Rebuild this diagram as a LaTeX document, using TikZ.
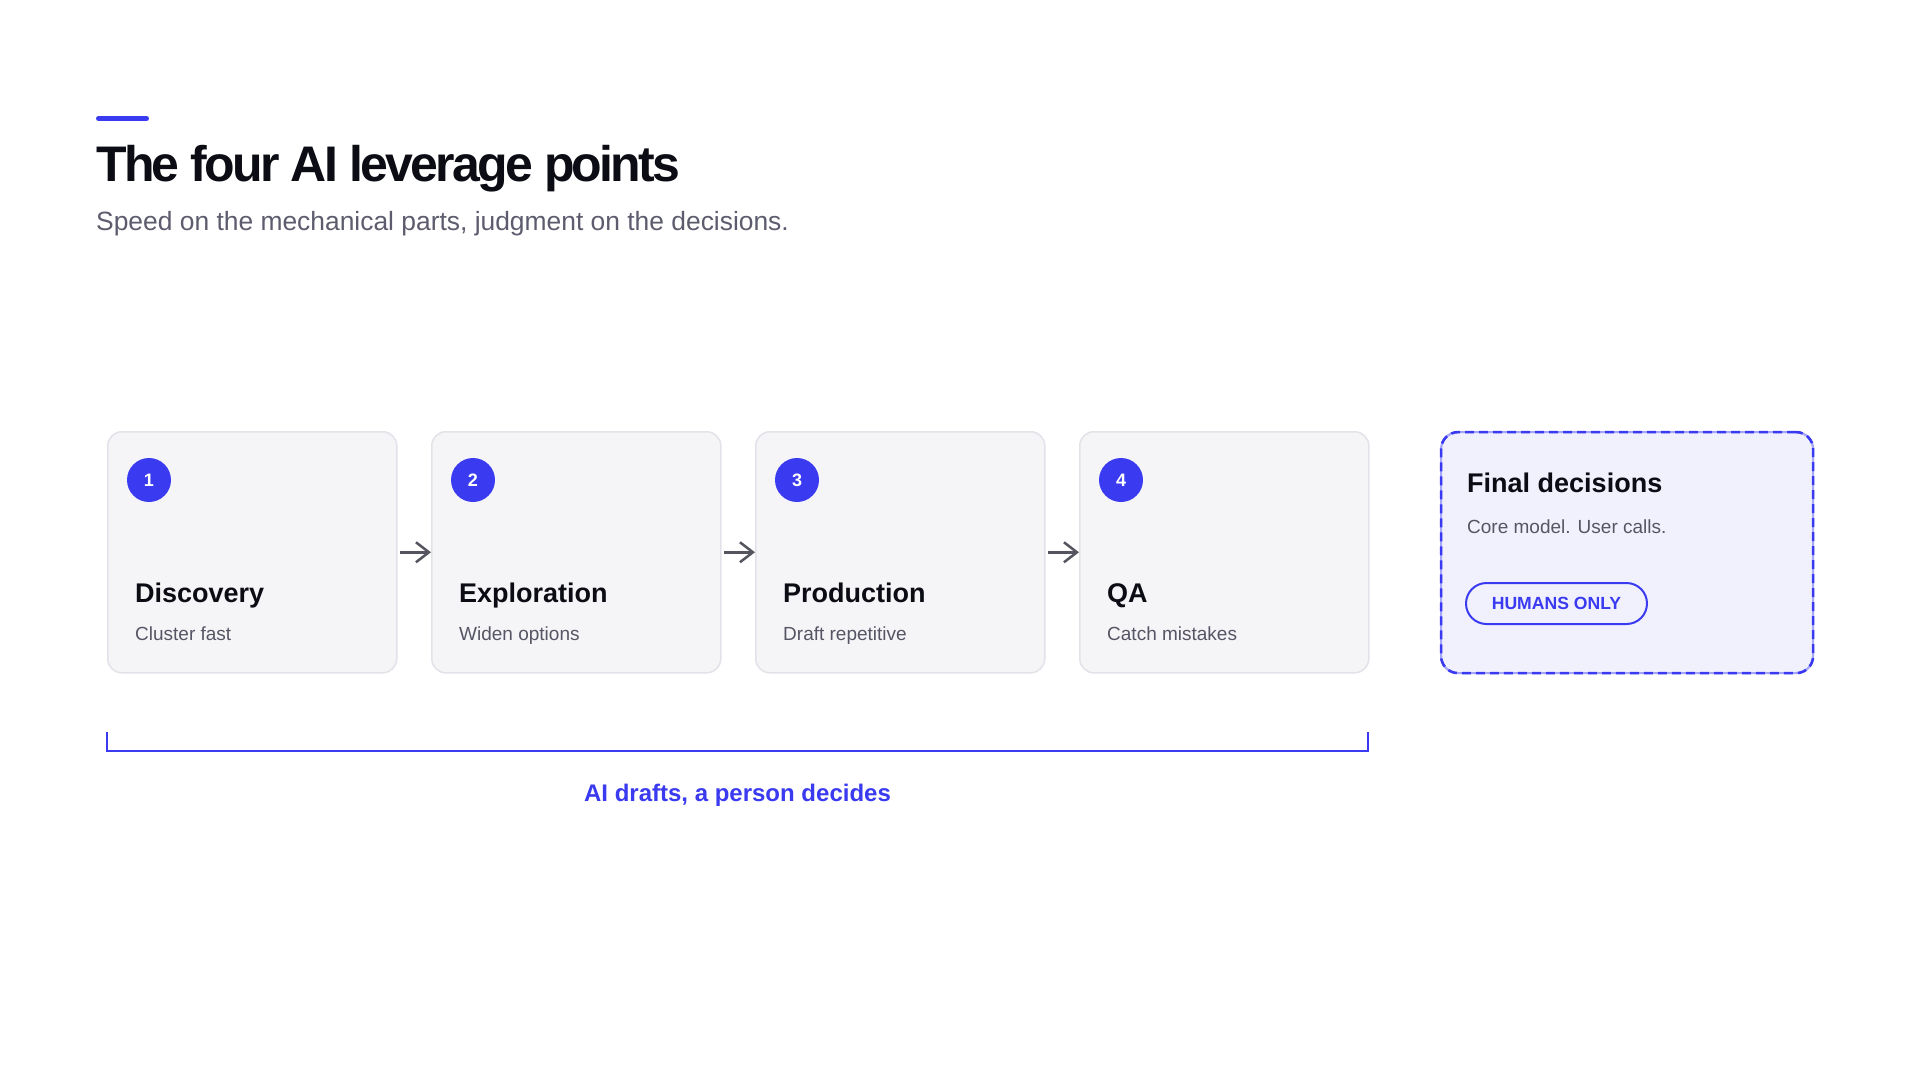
\documentclass[tikz,border=0pt]{standalone}
\usepackage{fontspec}
\setmainfont{Liberation Sans}
\newfontfamily\titlefont[LetterSpace=-5.5]{Liberation Sans}
\usetikzlibrary{arrows.meta}
\definecolor{accent}{RGB}{58,58,240}
\definecolor{ink}{RGB}{12,12,20}
\definecolor{muted}{RGB}{85,85,100}
\definecolor{submuted}{RGB}{92,92,110}
\definecolor{boxfill}{RGB}{245,245,248}
\definecolor{boxline}{RGB}{226,226,233}
\definecolor{finfill}{RGB}{241,241,254}
\definecolor{finline}{RGB}{165,165,250}
\definecolor{arrowgray}{RGB}{85,85,95}
\begin{document}
\begin{tikzpicture}[x=1pt,y=-1pt,
  stagebox/.style={draw=boxline, fill=boxfill, line width=1.5pt, rounded corners=14pt,
    minimum width=289pt, minimum height=241pt, inner sep=0pt, anchor=north west},
  finalbox/.style={draw=finline, fill=finfill, line width=2.2pt, rounded corners=17pt,
    minimum width=372pt, minimum height=241pt, inner sep=0pt, anchor=north west,
    postaction={draw=accent, line width=2.6pt, dash pattern=on 9pt off 5pt}},
  numdot/.style={circle, fill=accent, minimum size=44pt, inner sep=0pt, text=white,
    font=\fontsize{18}{20}\selectfont\bfseries, text height=13pt, text depth=0pt},
  stagetitle/.style={anchor=base west, inner sep=0pt, text=ink,
    font=\fontsize{27}{30}\selectfont\bfseries},
  stagesub/.style={anchor=base west, inner sep=0pt, text=muted,
    font=\fontsize{19}{22}\selectfont},
  flowarrow/.style={draw=arrowgray, line width=2.5pt,
    -{Straight Barb[length=13pt, width=20pt, line width=2.5pt]}},
  pill/.style={draw=accent, line width=2pt, fill=finfill, rounded corners=20.5pt,
    minimum width=181pt, minimum height=41pt, inner sep=0pt, text=accent,
    font=\fontsize{17.6}{20}\selectfont\bfseries, text height=12.6pt, text depth=0pt},
  bracketline/.style={draw=accent, line width=2pt, line join=miter}
]
\fill[white] (0,0) rectangle (1920,1080);
\useasboundingbox (0,0) rectangle (1920,1080);

% header
\coordinate (barL) at (98.5,118.5);
\coordinate (barR) at (146.5,118.5);
\draw[accent, line width=5pt, line cap=round] (barL) -- (barR);
\node[anchor=base west, inner sep=0pt, text=ink, font=\fontsize{50}{56}\titlefont\bfseries]
  (title) at (96,181) {The four AI leverage points};
\node[anchor=base west, inner sep=0pt, text=submuted, font=\fontsize{26.4}{30}\selectfont]
  (subtitle) at (96,230.5) {Speed on the mechanical parts, judgment on the decisions.};

% stages
\foreach \n/\t/\s in {1/Discovery/Cluster fast, 2/Exploration/Widen options,
                       3/Production/Draft repetitive, 4/QA/Catch mistakes}{
  \pgfmathsetmacro\L{107+324*(\n-1)}
  \node[stagebox] (b\n) at (\L,431) {};
  \node[numdot] (n\n) at (\L+42,480) {\n};
  \node[stagetitle] (t\n) at (\L+28,602.7) {\t};
  \node[stagesub] (s\n) at (\L+28,640.7) {\s};
}
\foreach \a/\b in {1/2,2/3,3/4}{
  \draw[flowarrow] ([xshift=2.5pt]b\a.east) -- (b\b.west);
}

% final decisions
\node[finalbox] (fin) at (1440,431) {};
\node[stagetitle] (fint) at (1467,492) {Final decisions};
\node[stagesub] (fins) at (1467,533.3) {Core model. User calls.};
\node[pill] (hum) at (1556.5,603.5) {HUMANS ONLY};

% bracket
\coordinate (brL) at (107,732);
\coordinate (brR) at (1368,732);
\draw[bracketline] (brL) -- (107,751) -- (1368,751) -- (brR);
\node[anchor=base, inner sep=0pt, text=accent, font=\fontsize{24}{28}\selectfont\bfseries]
  (brlabel) at (737.5,801.7) {AI drafts, a person decides};
\end{tikzpicture}
\end{document}
